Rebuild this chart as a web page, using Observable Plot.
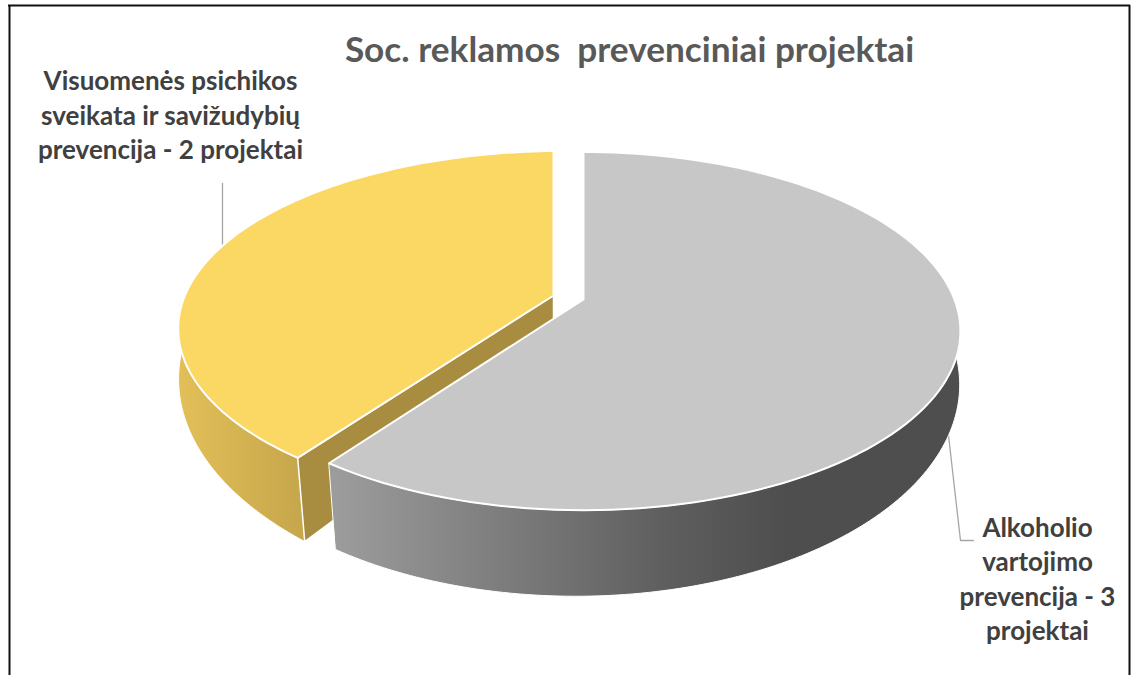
<!DOCTYPE html>
<html>
<head>
<meta charset="utf-8">
<style>html,body{margin:0;padding:0;background:#fff}svg{display:block}</style>
<script src="https://cdn.jsdelivr.net/npm/d3@7"></script>
<script src="https://cdn.jsdelivr.net/npm/@observablehq/plot@0.6"></script>
</head>
<body>
<script>
const categories = ["Alkoholio vartojimo prevencija", "Visuomenės psichikos sveikata ir savižudybių prevencija"];
const values = [3, 2];
const labels = ["Alkoholio\nvartojimo\nprevencija - 3\nprojektai", "Visuomenės psichikos\nsveikata ir savižudybių\nprevencija - 2 projektai"];
const chartTitle = "Soc. reklamos\u00a0 prevenciniai projektai";

const W = 1133, H = 675;
const FONT = "Lato, 'Open Sans', sans-serif";
const arcs = d3.pie().sort(null).startAngle(0).endAngle(2 * Math.PI)(values);
const [grayArc, yellowArc] = arcs;

// perspective view of a tilted disc; the near rim is larger than the far rim
const view = {
  gray: {
    cx: 583, cy: 299,
    top: {b: 371, a: 173.5, k: 0.1765, m: 0, dy: 0, rim: 0},
    bottom: {b: 380.8, a: 208.7, k: 0.107, m: 0.018, dy: 63, rim: 0}
  },
  yellow: {
    cx: 553, cy: 295,
    top: {b: 381, a: 173, k: 0.1765, m: -0.031, dy: 0, rim: 2.5},
    bottom: {b: 414, a: 222.5, k: 0.107, m: -0.11, dy: 62, rim: 0}
  }
};

function pt(v, ring, t) {
  const X = Math.sin(t), Y = -Math.cos(t), d = 1 - ring.k * Y + ring.m * X;
  return {x: v.cx + ring.b * X / d, y: v.cy + ring.dy + ring.rim + ring.a * Y / d};
}
function sweep(from, to, n = 120) {
  return d3.range(n + 1).map(i => from + (to - from) * i / n);
}
const center = (v, ring) => ({x: v.cx, y: v.cy + ring.dy});
function topFace(v, arc) {
  return [center(v, v.top), ...sweep(arc.startAngle, arc.endAngle).map(t => pt(v, v.top, t))];
}
function outerWall(v, from, to) {
  return [...sweep(from, to).map(t => pt(v, v.top, t)), ...sweep(to, from).map(t => pt(v, v.bottom, t))];
}
function cutWall(v, t) {
  return [center(v, v.top), pt(v, v.top, t), pt(v, v.bottom, t), center(v, v.bottom)];
}

const rad = d => d * Math.PI / 180;
const face = (data, fill, sw = 1.5) => Plot.line(data, {x: "x", y: "y", fill, stroke: "white", strokeWidth: sw, curve: "linear-closed", strokeLinejoin: "round"});

function gradients() {
  const svg = d3.create("svg:g");
  const defs = svg.append("defs");
  const mk = (id, x1, x2, stops) => {
    const g = defs.append("linearGradient").attr("id", id).attr("gradientUnits", "userSpaceOnUse")
      .attr("x1", x1).attr("x2", x2).attr("y1", 0).attr("y2", 0);
    stops.forEach(([o, c]) => g.append("stop").attr("offset", o).attr("stop-color", c));
  };
  mk("grayWall", 335, 960, [[0, "#9c9c9c"], [0.52, "#5f5f5f"], [0.72, "#4e4e4e"], [1, "#4e4e4e"]]);
  mk("yellowWall", 178, 304, [[0, "#e2bf58"], [1, "#c6a64c"]]);
  return svg.node();
}

const plot = Plot.plot({
  width: W, height: H,
  margin: 0,
  x: {domain: [0, W], range: [0, W], axis: null},
  y: {domain: [0, H], range: [0, H], axis: null},
  style: {background: "#fff"},
  marks: [
    gradients,
    // frame
    Plot.ruleX([9, 1129], {y1: 5, y2: H, stroke: "#111", strokeWidth: 2}),
    Plot.ruleY([5], {x1: 8, x2: 1130, stroke: "#111", strokeWidth: 2}),
    // leaders
    Plot.line([{x: 222, y: 183}, {x: 222, y: 246}], {x: "x", y: "y", stroke: "#a6a6a6", strokeWidth: 1.3}),
    Plot.line([{x: 948, y: 435}, {x: 960, y: 540}, {x: 973, y: 540}], {x: "x", y: "y", stroke: "#a6a6a6", strokeWidth: 1.3}),
    // yellow slice
    face(outerWall(view.yellow, yellowArc.startAngle, rad(275)), "url(#yellowWall)", 1),
    face(cutWall(view.yellow, yellowArc.startAngle), "#a88c40", 1.5),
    face(topFace(view.yellow, yellowArc), "#fbd764", 2),
    // gray slice
    face(outerWall(view.gray, grayArc.endAngle, rad(85)), "url(#grayWall)", 1),
    face(topFace(view.gray, grayArc), "#c7c7c7", 2),
    // text
    Plot.text([chartTitle], {x: () => 629, y: () => 50, text: d => d, fontFamily: FONT, fontWeight: 700, fontSize: 35.2, fill: "#595959"}),
    Plot.text([labels[1]], {x: () => 170, y: () => 113, text: d => d, lineHeight: 1.33, fontFamily: FONT, fontWeight: 700, fontSize: 26, fill: "#404040"}),
    Plot.text([labels[0]], {x: () => 1037, y: () => 577, text: d => d, lineHeight: 1.33, fontFamily: FONT, fontWeight: 700, fontSize: 26, fill: "#404040"})
  ]
});
document.body.appendChild(plot);
</script>
</body>
</html>
